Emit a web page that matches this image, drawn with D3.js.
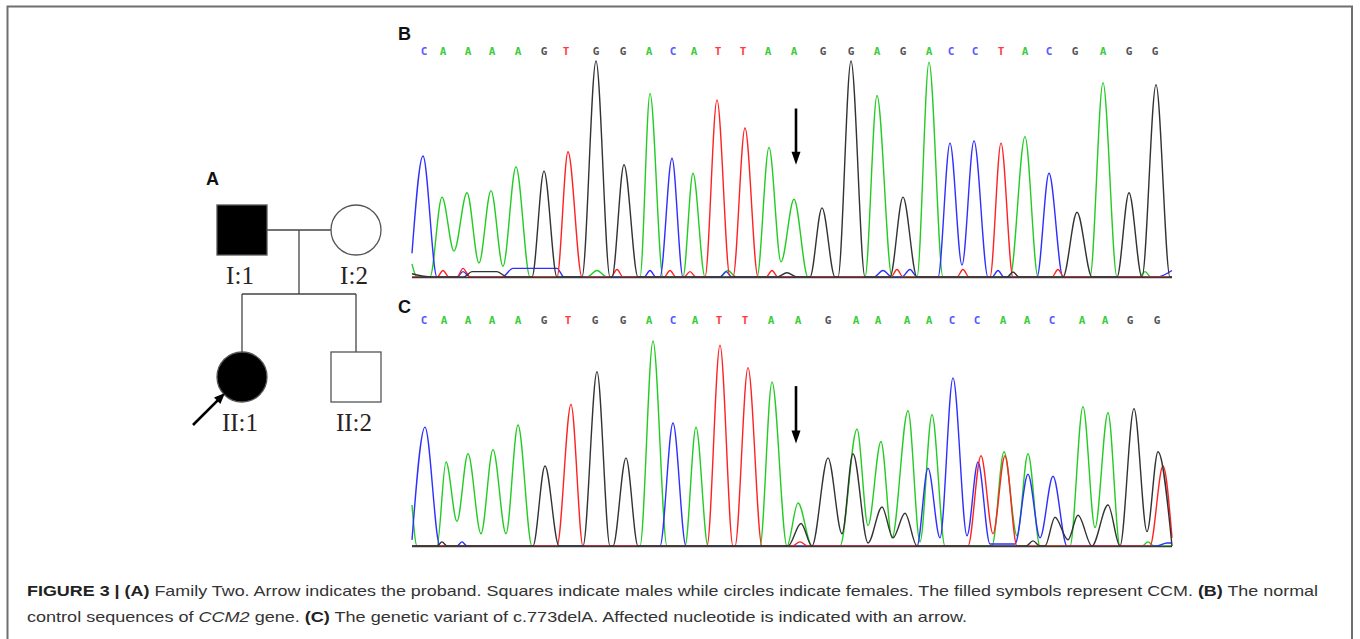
<!DOCTYPE html>
<html>
<head>
<meta charset="utf-8">
<script src="https://cdn.jsdelivr.net/npm/d3@7"></script>
<style>
  html, body { margin: 0; padding: 0; background: #fff; }
  svg { display: block; }
</style>
</head>
<body>
<div id="figure"></div>
<script>
// base calls shown above each chromatogram
var callsB = 'CAAAAGTGGACATTAAGGAGACCTACGAGG'.split('');
var callsC = 'CAAAAGTGGACATTAAGAAAACCAACAAGG'.split('');

// scan position of each base call
var callPosB = [12, 31, 56, 80, 106, 132, 154, 184, 211, 237, 261, 282, 306, 331, 356,
                382, 411, 439, 465, 491, 517, 539, 563, 589, 613, 637, 663, 691, 717, 743];
var callPosC = [12, 32, 56, 80, 106, 132, 156, 183, 211, 237, 261, 283, 307, 333, 359,
                386, 416, 444, 466, 495, 517, 540, 565, 591, 615, 640, 670, 693, 718, 745];

// trace points [scan, signal %] for the normal control (B)
var traceB_A = [[0,6],[5,0],[18,0],[30,37],[42,12],[55,39],[67,6.5],[79,40],[91,5],[104,51],[118,0],
                [175,0],[185,3],[195,0],[228,0],[238,85],[251,0],[271,0],[281,48],[293,0],[308,0],[316,3],
                [324,0],[345,0],[357,60],[369,7],[382,36],[396,0],[453,0],[465,84],[480,0],[505,0],
                [517,99.5],[531,0],[598,0],[613,65],[626,0],[678,0],[691,90],[705,0],[727,0],[733,2.5],
                [739,0],[760,0]];
var traceB_C = [[0,11],[11,56],[25,0],[45,0],[51,2.5],[58,0],[90,0],[101,4],[145,4],[152,0],[232,0],
                [238,3],[244,0],[248,0],[260,55],[271,0],[308,0],[314,2.5],[320,0],[462,0],[471,3],
                [480,0],[490,0],[498,3.5],[505,0],[526,0],[538,62],[550,5.5],[562,63],[576,0],[580,0],
                [586,3],[592,0],[625,0],[637,48],[651,0],[745,0],[760,3]];
var traceB_T = [[0,0],[25,0],[31,3],[37,0],[45,0],[51,4],[58,0],[145,0],[156,58],[170,0],[199,0],
                [205,3.5],[211,0],[252,0],[258,3],[264,0],[272,0],[278,2.5],[284,0],[293,0],[305,82],
                [318,0],[321,0],[333,69],[346,0],[354,0],[360,3],[366,0],[479,0],[485,3.5],[491,0],
                [545,0],[551,3.5],[557,0],[578,0],[589,62],[601,0],[640,0],[646,3.5],[652,0],[760,0]];
var traceB_G = [[0,1.5],[20,0],[52,0],[60,2.5],[85,2.5],[95,0],[120,0],[132,49],[145,0],[170,0],
                [184,100],[198,0],[200,0],[212,52],[226,0],[365,0],[375,2],[385,0],[398,0],[410,32],
                [423,0],[426,0],[439,100],[453,0],[478,0],[491,37],[505,0],[595,0],[601,2.3],[607,0],
                [651,0],[665,30],[680,0],[705,0],[717,39],[730,0],[744,89],[758,0],[760,0]];

// trace points [scan, signal %] for the c.773delA variant (C)
var traceC_A = [[0,20],[5,0],[25,0],[34,41],[45,12],[56,45],[69,6],[81,47],[94,6],[106,59],[120,0],
                [228,0],[241,100],[255,0],[273,0],[284,58],[296,0],[348,0],[360,80],[375,0],[386,21],
                [400,0],[428,0],[445,57],[456,10],[469,51],[480,4],[496,66],[508,2],[520,64],[533,0],
                [580,0],[592,46],[605,5],[616,45],[628,0],[658,0],[671,68],[683,9],[696,65],[708,0],
                [730,0],[736,2],[742,0],[760,0]];
var traceC_C = [[0,3],[13,58],[28,0],[45,0],[50,2],[55,0],[248,0],[261,60],[274,0],[505,0],[516,38],
                [528,4],[541,82],[555,5],[566,41],[578,1],[603,1],[616,35],[628,4],[641,34],[655,0],
                [745,0],[755,1.5],[760,1.5]];
var traceC_T = [[0,0],[145,0],[159,69],[171,0],[295,0],[308,98],[321,0],[323,0],[336,87],[350,0],
                [380,0],[388,2],[396,0],[556,0],[569,44],[581,6],[593,44],[605,0],[738,0],[751,39],[760,4]];
var traceC_G = [[0,0],[25,0],[30,2],[35,0],[121,0],[133,39],[147,0],[171,0],[185,85],[198,0],[201,0],
                [214,43],[226,0],[376,0],[389,11],[400,0],[416,43],[430,6],[441,45],[456,1.5],[470,19],
                [481,4],[493,16],[505,0],[614,0],[621,2.5],[628,0],[633,0],[643,14],[656,3],[666,15],
                [680,0],[696,20],[708,0],[722,67],[735,7],[746,46],[760,0]];

// pedigree members (panel A)
var pedigree = [
    { id : 'I:1',  gen : 1, order : 0, sex : 'male',   affected : true  },
    { id : 'I:2',  gen : 1, order : 1, sex : 'female', affected : false },
    { id : 'II:1', gen : 2, order : 0, sex : 'female', affected : true, proband : true },
    { id : 'II:2', gen : 2, order : 1, sex : 'male',   affected : false }
];

var BASE_COLOR  = { A : '#3ccc3c', C : '#5a5aff', G : '#555555', T : '#ff3b3b' };
var TRACE_COLOR = { A : '#22cc22', C : '#2f2fff', G : '#333333', T : '#ff2222' };

var svg = d3.select('#figure')
            .append('svg')
            .attr('width', 1360)
            .attr('height', 639);

// figure frame
svg.append('path')
    .attr('d', 'M7.5,645V6.5H1352V645')
    .attr('fill', 'none')
    .attr('stroke', '#6f6f6f')
    .attr('stroke-width', 2);

// helper: straight arrow with a filled triangular head
function drawArrow(g, x1, y1, x2, y2, headLen, headW, width) {
    var dx = x2 - x1, dy = y2 - y1, len = Math.sqrt(dx * dx + dy * dy);
    var ux = dx / len, uy = dy / len;
    var bx = x2 - ux * headLen, by = y2 - uy * headLen;
    g.append('line')
        .attr('x1', x1).attr('y1', y1)
        .attr('x2', bx + ux).attr('y2', by + uy)
        .attr('stroke', '#000')
        .attr('stroke-width', width);
    g.append('path')
        .attr('d', 'M' + x2 + ',' + y2 +
                   'L' + (bx - uy * headW / 2) + ',' + (by + ux * headW / 2) +
                   'L' + (bx + uy * headW / 2) + ',' + (by - ux * headW / 2) + 'Z')
        .attr('fill', '#000');
}

// panel letters
svg.selectAll('text.panel-label')
    .data([{ t : 'A', x : 206, y : 185 }, { t : 'B', x : 398, y : 40 }, { t : 'C', x : 398, y : 313 }])
    .enter()
    .append('text')
    .attr('class', 'panel-label')
    .attr('x', function(d) { return d.x; })
    .attr('y', function(d) { return d.y; })
    .attr('font-family', 'Liberation Sans, Arial, sans-serif')
    .attr('font-weight', 'bold')
    .attr('font-size', 18)
    .attr('fill', '#111')
    .text(function(d) { return d.t; });

// ---------- pedigree ----------
var ped = svg.append('g');
var pedX = d3.scaleLinear().domain([0, 1]).range([242, 356]);
var pedY = d3.scaleLinear().domain([1, 2]).range([230, 377]);
var HALF = 25;
var sibY = 294;
var midX = (pedX(0) + pedX(1)) / 2;

var founders = pedigree.filter(function(d) { return d.gen === 1; });
var children = pedigree.filter(function(d) { return d.gen === 2; });

// marriage, descent and sibship lines
var pedLines = [
    [pedX(founders[0].order) + HALF, pedY(1), pedX(founders[1].order) - HALF, pedY(1)],
    [midX, pedY(1), midX, sibY],
    [pedX(children[0].order), sibY, pedX(children[1].order), sibY]
].concat(children.map(function(d) { return [pedX(d.order), sibY, pedX(d.order), pedY(d.gen) - HALF]; }));

ped.selectAll('line.rel')
    .data(pedLines)
    .enter()
    .append('line')
    .attr('class', 'rel')
    .attr('x1', function(d) { return d[0]; })
    .attr('y1', function(d) { return d[1]; })
    .attr('x2', function(d) { return d[2]; })
    .attr('y2', function(d) { return d[3]; })
    .attr('stroke', '#444')
    .attr('stroke-width', 1.3);

// symbols: squares for males, circles for females
var members = ped.selectAll('g.member')
    .data(pedigree)
    .enter()
    .append('g')
    .attr('class', 'member')
    .attr('transform', function(d) { return 'translate(' + pedX(d.order) + ',' + pedY(d.gen) + ')'; });

members.filter(function(d) { return d.sex === 'male'; })
    .append('rect')
    .attr('x', -HALF).attr('y', -HALF)
    .attr('width', HALF * 2).attr('height', HALF * 2);

members.filter(function(d) { return d.sex === 'female'; })
    .append('circle')
    .attr('r', HALF);

members.selectAll('rect, circle')
    .attr('fill', function(d) { return d.affected ? '#000' : '#fff'; })
    .attr('stroke', '#555')
    .attr('stroke-width', 1.3);

members.append('text')
    .attr('x', -2)
    .attr('y', HALF + 29)
    .attr('text-anchor', 'middle')
    .attr('font-family', 'Liberation Serif, Times New Roman, serif')
    .attr('font-size', 25)
    .attr('fill', '#2a221c')
    .text(function(d) { return d.id; });

// proband arrow
pedigree.filter(function(d) { return d.proband; }).forEach(function(d) {
    var cx = pedX(d.order), cy = pedY(d.gen);
    drawArrow(ped, cx - 49, cy + 48, cx - 17, cy + 16, 11, 9, 2.6);
});

// ---------- chromatograms ----------
var x = d3.scaleLinear().domain([0, 760]).range([412, 1172]);

var panels = [
    { calls : callsB, pos : callPosB, base : 277, top : 61, letterY : 55,
      traces : [['A', traceB_A], ['C', traceB_C], ['T', traceB_T], ['G', traceB_G]],
      arrow : { scan : 384, from : 78, to : 52 } },
    { calls : callsC, pos : callPosC, base : 546, top : 341, letterY : 324,
      traces : [['A', traceC_A], ['C', traceC_C], ['T', traceC_T], ['G', traceC_G]],
      arrow : { scan : 384, from : 78, to : 50 } }
];

panels.forEach(function(p) {
    var g = svg.append('g');
    var y = d3.scaleLinear().domain([0, 100]).range([p.base, p.top]);

    // one trace per nucleotide channel
    var line = d3.line()
        .x(function(d) { return x(d[0]); })
        .y(function(d) { return y(d[1]); })
        .curve(d3.curveMonotoneX);

    g.selectAll('path.trace')
        .data(p.traces)
        .enter()
        .append('path')
        .attr('class', 'trace')
        .attr('d', function(d) { return line(d[1]); })
        .attr('fill', 'none')
        .attr('stroke', function(d) { return TRACE_COLOR[d[0]]; })
        .attr('stroke-width', 1.4)
        .attr('stroke-linejoin', 'round');

    // baseline drawn over the traces
    g.append('line')
        .attr('x1', x(0)).attr('x2', x(760))
        .attr('y1', y(0) + 0.5).attr('y2', y(0) + 0.5)
        .attr('stroke', '#3a3a3a')
        .attr('stroke-width', 1.6);

    // base calls
    g.selectAll('text.call')
        .data(p.calls)
        .enter()
        .append('text')
        .attr('class', 'call')
        .attr('x', function(d, i) { return x(p.pos[i]); })
        .attr('y', p.letterY)
        .attr('text-anchor', 'middle')
        .attr('font-family', 'DejaVu Sans Mono, monospace')
        .attr('font-weight', 'bold')
        .attr('font-size', 11)
        .attr('fill', function(d) { return BASE_COLOR[d]; })
        .text(function(d) { return d; });

    // arrow at the affected nucleotide
    drawArrow(g, x(p.arrow.scan), y(p.arrow.from), x(p.arrow.scan), y(p.arrow.to), 13, 9, 2.6);
});

// ---------- caption ----------
var captionLines = [
    [['FIGURE 3 | ', 'b'], ['(A)', 'b'],
     [' Family Two. Arrow indicates the proband. Squares indicate males while circles indicate females. The filled symbols represent CCM. ', ''],
     ['(B)', 'b'], [' The normal', '']],
    [['control sequences of ', ''], ['CCM2', 'i'], [' gene. ', ''], ['(C)', 'b'],
     [' The genetic variant of c.773delA. Affected nucleotide is indicated with an arrow.', '']]
];
var captionWidth = [1291, 940];

svg.selectAll('text.caption')
    .data(captionLines)
    .enter()
    .append('text')
    .attr('class', 'caption')
    .attr('x', 27)
    .attr('y', function(d, i) { return 596 + i * 26; })
    .attr('textLength', function(d, i) { return captionWidth[i]; })
    .attr('lengthAdjust', 'spacingAndGlyphs')
    .attr('font-family', 'Liberation Sans, Arial, sans-serif')
    .attr('font-size', 15)
    .attr('fill', '#333')
    .selectAll('tspan')
    .data(function(d) { return d; })
    .enter()
    .append('tspan')
    .attr('font-weight', function(d) { return d[1] === 'b' ? 'bold' : 'normal'; })
    .attr('font-style', function(d) { return d[1] === 'i' ? 'italic' : 'normal'; })
    .attr('fill', function(d) { return d[1] === 'b' ? '#222' : '#333'; })
    .text(function(d) { return d[0]; });
</script>
</body>
</html>
